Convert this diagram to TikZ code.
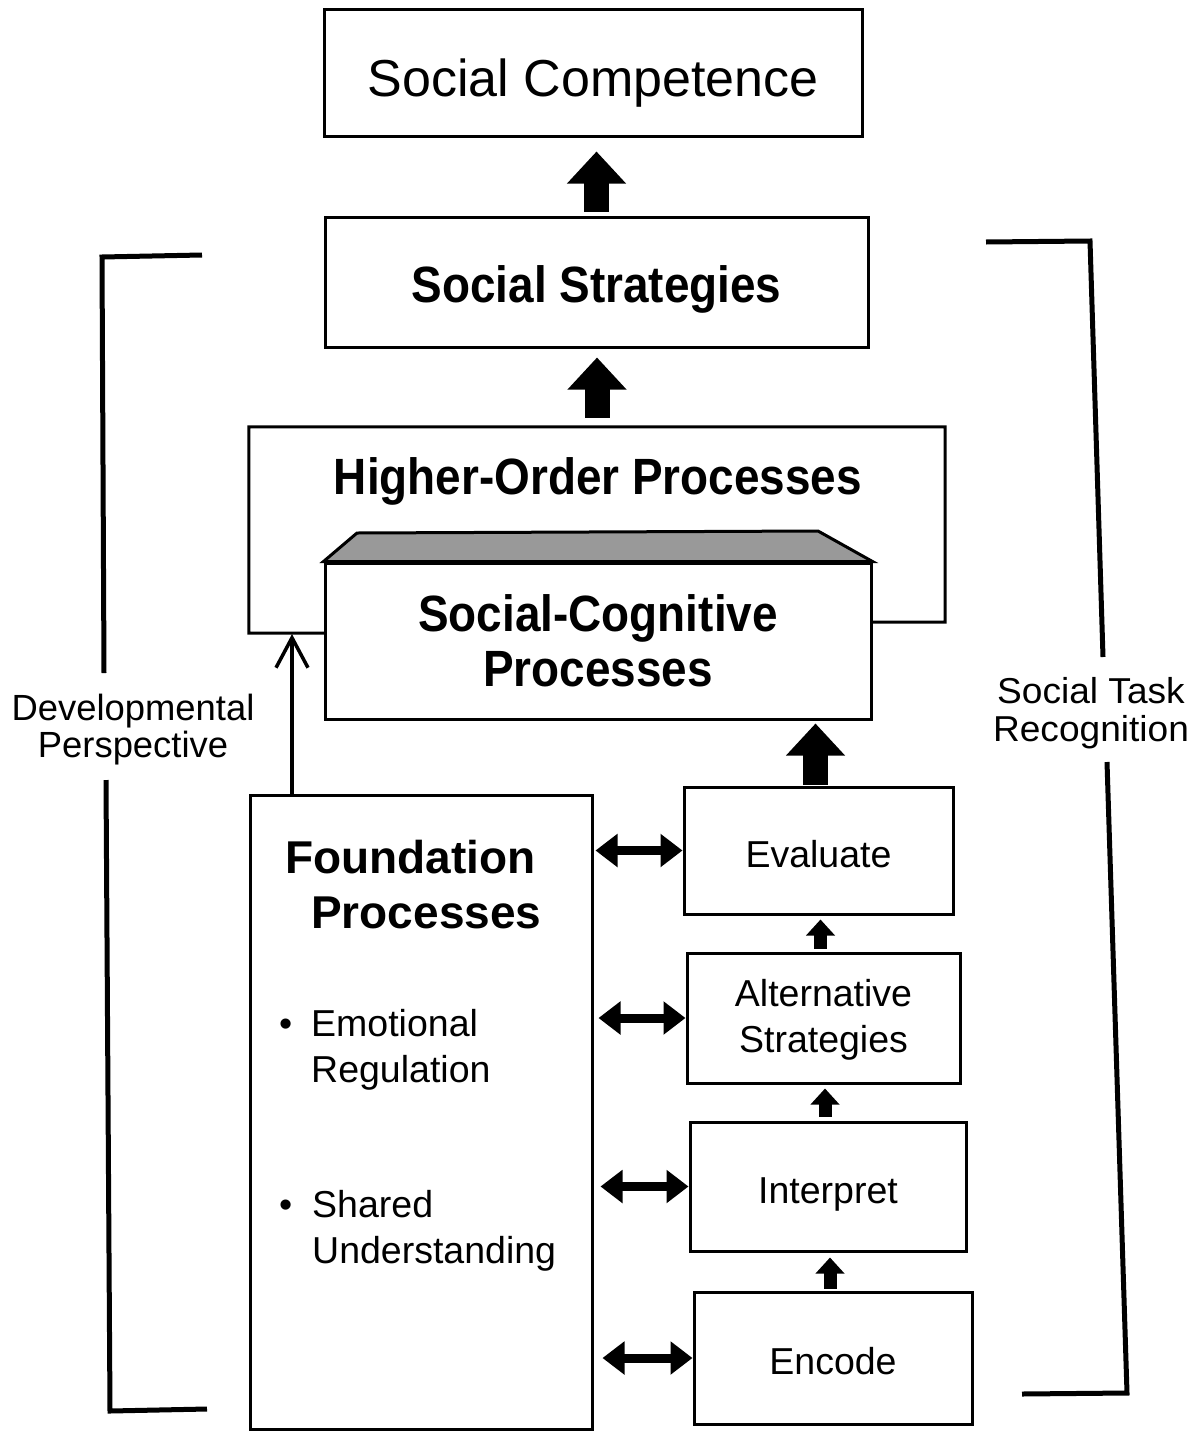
\documentclass[tikz,border=0pt]{standalone}
\usepackage{fontspec}
\setmainfont{Liberation Sans}
\newfontfamily\condf[FakeStretch=0.9]{Liberation Sans}
\newfontfamily\widef[FakeStretch=1.03]{Liberation Sans}
\usetikzlibrary{arrows.meta}
\begin{document}
\begin{tikzpicture}[x=1pt,y=-1pt,
  box/.style={draw, line width=3pt, inner sep=0pt, align=center},
  headc/.style={font=\condf\bfseries\fontsize{51}{55}\selectfont},
  headf/.style={font=\bfseries\fontsize{46}{55}\selectfont},
  body/.style={font=\fontsize{37.5}{46}\selectfont, inner sep=0pt},
  one/.style={text height=33pt, text depth=0pt},
  blk/.style={line width=25pt, -{Triangle[length=32pt,width=57pt]}},
  sblk/.style={line width=13pt, -{Triangle[length=16pt,width=28pt]}},
  dbl/.style={line width=9pt, {Triangle[length=22pt,width=32pt]}-{Triangle[length=22pt,width=32pt]}},
  thin/.style={line width=3.5pt, -{Straight Barb[length=30pt,width=32pt,line width=3.5pt]}},
  brk/.style={line width=5pt, line join=miter}
]
\useasboundingbox (0,0) rectangle (1197,1432);

% top boxes
\node[box, minimum width=538pt, minimum height=127pt, text height=48pt, text depth=0pt,
      font=\fontsize{52}{60}\selectfont] (sc) at (593,72.5) {Social Competence};
\node[box, minimum width=543pt, minimum height=130pt, text height=41pt, text depth=0pt, headc] (ss) at (596.5,282) {Social Strategies};

% higher-order box (outline partly hidden behind social-cognitive box)
\node[minimum width=696pt, minimum height=206pt, inner sep=0pt] (ho) at (597,530) {};
\draw[line width=3pt] (325,633) -- (ho.south west) -- (ho.north west) -- (ho.north east) -- (945,622) -- (871,622);
\node[headc, inner sep=0pt] (hotext) at (598,481) {Higher-Order Processes};

% social-cognitive box with shaded top
\node[box, minimum width=546pt, minimum height=156pt, headc] (socog) at (598,641) {Social-Cognitive\\Processes};
\draw[line width=3pt, fill=black!40] (socog.north west) -- (357,533) -- (818,531) -- (socog.north east) -- cycle;

% right column
\node[box, minimum width=269pt, minimum height=127pt, body, one] (eval) at (818.5,850.5) {Evaluate};
\node[box, minimum width=273pt, minimum height=130pt, body] (alt) at (823.5,1018) {\rule{0pt}{30pt}Alternative\\Strategies};
\node[box, minimum width=276pt, minimum height=129pt, body, one] (interp) at (828,1186.5) {Interpret};
\node[box, minimum width=278pt, minimum height=132pt, body, one] (encode) at (833,1358) {Encode};

% foundation box
\node[box, minimum width=342pt, minimum height=634pt] (found) at (421,1112) {};
\node[headf, anchor=base west, inner sep=0pt] (f1) at (285,873) {Foundation};
\node[headf, anchor=base west, inner sep=0pt] (f2) at (311,928) {Processes};
\node[body, anchor=base west] (b1) at (279,1036) {•};
\node[body, anchor=base west] (e1) at (311,1036) {Emotional};
\node[body, anchor=base west] (e2) at (311,1082) {Regulation};
\node[body, anchor=base west] (b2) at (279,1217) {•};
\node[body, anchor=base west] (s1) at (312,1217) {Shared};
\node[body, anchor=base west] (s2) at (312,1263) {Understanding};

% block arrows
\draw[blk, shorten <=4pt, shorten >=14pt] (ss.north) -- (ss.north |- sc.south);
\draw[blk, shorten <=9pt, shorten >=9pt] (ho.north) -- (ho.north |- ss.south);
\draw[blk, shorten <=1pt, shorten >=3pt] ([xshift=-3pt]eval.north) -- ([xshift=-3pt]eval.north |- socog.south);
\draw[sblk, shorten <=3pt, shorten >=4pt] ([xshift=-3pt]alt.north) -- ([xshift=-3pt]alt.north |- eval.south);
\draw[sblk, shorten <=4pt, shorten >=4pt] ([xshift=-3pt]interp.north) -- ([xshift=-3pt]interp.north |- alt.south);
\draw[sblk, shorten <=2pt, shorten >=5pt] ([xshift=-3pt]encode.north) -- ([xshift=-3pt]encode.north |- interp.south);

% double arrows
\draw[dbl, shorten <=2pt] (eval.west -| found.east) -- (eval.west);
\draw[dbl, shorten <=5pt] (alt.west -| found.east) -- (alt.west);
\draw[dbl, shorten <=7pt] (interp.west -| found.east) -- (interp.west);
\draw[dbl, shorten <=9pt] (encode.west -| found.east) -- (encode.west);

% thin arrow from foundation up to higher-order
\coordinate (hoL) at (292,634);
\draw[thin] (found.north -| hoL) -- (hoL);

% left bracket
\node[font=\fontsize{36.4}{37}\selectfont, align=center, inner sep=0pt] (dev) at (133,730) {Developmental\\Perspective};
\draw[brk] (202,255) -- (102,257) -- (104,673);
\draw[brk] (106,780) -- (110,1411) -- (207,1409);

% right bracket
\node[font=\widef\fontsize{36}{38}\selectfont, align=center, inner sep=0pt] (stl) at (1091,713) {Social Task\\Recognition};
\draw[brk] (986,242) -- (1090,241) -- (1103,657);
\draw[brk] (1107,762) -- (1127,1393) -- (1022,1394);
\end{tikzpicture}
\end{document}
